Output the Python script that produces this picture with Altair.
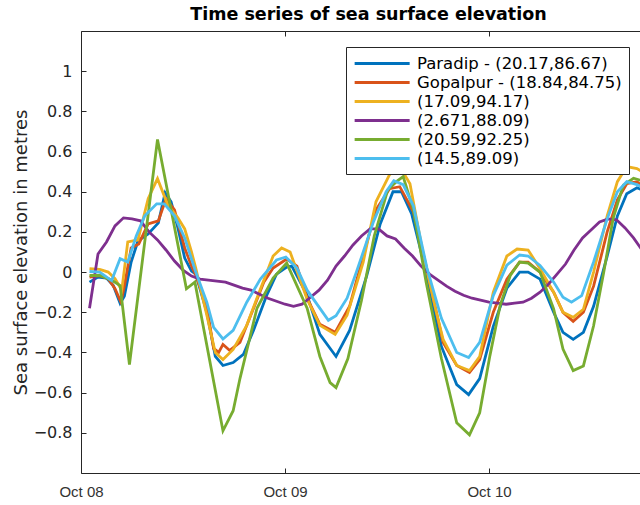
import altair as alt
import pandas as pd

SERIES = ["Paradip - (20.17,86.67)", "Gopalpur - (18.84,84.75)", "(17.09,94.17)",
          "(2.671,88.09)", "(20.59,92.25)", "(14.5,89.09)"]
COLORS = ["#0072BD", "#D95319", "#EDB120", "#7E2F8E", "#77AC30", "#4DBEEE"]

# hours after Oct 08 00:00, and sea surface elevation (m)
PARADIP_H = [1.0, 2.0, 3.0, 3.8, 4.6, 5.1, 5.9, 6.7, 7.9, 9.1, 9.9, 10.6, 11.4, 12.2, 13.0, 13.5, 14.8, 15.8,
             16.7, 17.9, 19.1, 20.3, 21.8, 23.0, 24.2, 24.8, 26.6, 28.1, 30.0, 31.6, 33.6, 35.2, 36.7, 37.7,
             38.9, 40.6, 42.4, 44.2, 45.6, 46.9, 48.5, 50.1, 51.6, 52.6, 54.0, 55.6, 56.7, 57.9, 59.1, 60.3,
             61.9, 63.1, 64.2, 65.4, 66.0]
PARADIP_V = [-0.05, -0.025, -0.03, -0.067, -0.155, -0.12, 0.05, 0.155, 0.19, 0.245, 0.395, 0.35, 0.22, 0.07,
             0.005, -0.01, -0.2, -0.42, -0.465, -0.45, -0.41, -0.29, -0.12, -0.01, 0.025, 0.03, -0.115, -0.31,
             -0.42, -0.29, -0.02, 0.24, 0.4, 0.4, 0.29, 0.0, -0.37, -0.56, -0.61, -0.53, -0.27, -0.08, 0.0, 0.0,
             -0.035, -0.2, -0.3, -0.335, -0.3, -0.17, 0.08, 0.28, 0.39, 0.42, 0.41]

GOPALPUR_H = [1.0, 2.2, 3.2, 4.0, 4.7, 5.1, 5.9, 6.8, 7.9, 9.1, 10.0, 11.0, 12.2, 13.0, 13.5, 14.8, 15.6, 16.2,
              16.7, 17.5, 18.7, 20.3, 21.5, 22.6, 24.2, 25.4, 26.6, 28.1, 29.9, 31.6, 33.2, 34.7, 36.3, 37.5,
              39.1, 40.6, 42.6, 44.2, 45.7, 46.9, 48.5, 50.1, 51.6, 52.6, 54.0, 55.6, 56.7, 57.9, 59.1, 60.3,
              61.9, 63.1, 64.2, 65.4, 66.0]
GOPALPUR_V = [-0.025, -0.017, -0.033, -0.083, -0.15, -0.07, 0.12, 0.14, 0.24, 0.255, 0.365, 0.31, 0.12, 0.03,
              -0.015, -0.17, -0.38, -0.4, -0.36, -0.39, -0.35, -0.18, -0.05, 0.02, 0.065, 0.03, -0.13, -0.26,
              -0.3, -0.17, 0.08, 0.31, 0.415, 0.425, 0.3, 0.03, -0.35, -0.465, -0.5, -0.435, -0.2, -0.035, 0.05,
              0.05, 0.0, -0.1, -0.2, -0.245, -0.2, -0.07, 0.2, 0.36, 0.44, 0.45, 0.43]

S3_H = [1.0, 2.2, 3.2, 4.0, 4.8, 5.5, 6.7, 7.9, 9.0, 10.2, 11.4, 12.2, 13.0, 13.5, 14.8, 15.8, 16.7, 17.9, 19.5,
        21.1, 22.6, 23.6, 24.6, 26.6, 28.1, 29.9, 31.3, 33.2, 34.7, 36.3, 37.5, 38.7, 40.2, 41.8, 42.6, 44.2,
        45.7, 46.9, 48.5, 50.1, 51.3, 52.6, 54.0, 55.6, 56.7, 57.9, 59.1, 60.3, 61.9, 63.1, 64.2, 65.4, 66.0]
S3_V = [0.017, 0.013, 0.0, -0.033, -0.09, 0.15, 0.16, 0.365, 0.465, 0.335, 0.27, 0.215, 0.1, 0.02, -0.215, -0.4,
        -0.435, -0.385, -0.265, -0.085, 0.08, 0.12, 0.1, -0.135, -0.265, -0.31, -0.215, 0.05, 0.35, 0.485, 0.525,
        0.44, 0.1, -0.2, -0.335, -0.465, -0.49, -0.42, -0.1, 0.08, 0.115, 0.11, 0.017, -0.1, -0.2, -0.225,
        -0.185, 0.0, 0.28, 0.45, 0.525, 0.515, 0.5]

S4_H = list(range(1, 67))
S4_V = [-0.18, 0.09, 0.15, 0.23, 0.27, 0.265, 0.255, 0.2, 0.16, 0.11, 0.055, 0.01, -0.02, -0.035, -0.04, -0.045,
        -0.05, -0.065, -0.08, -0.09, -0.11, -0.13, -0.145, -0.16, -0.17, -0.16, -0.125, -0.09, -0.04, 0.03,
        0.08, 0.135, 0.18, 0.215, 0.215, 0.18, 0.165, 0.12, 0.08, 0.03, -0.01, -0.04, -0.07, -0.095, -0.115,
        -0.13, -0.14, -0.15, -0.155, -0.16, -0.155, -0.15, -0.13, -0.1, -0.06, -0.01, 0.04, 0.11, 0.17, 0.21,
        0.25, 0.265, 0.26, 0.22, 0.17, 0.11]

S5_H = [1.0, 2.2, 3.6, 4.6, 5.7, 9.0, 12.4, 13.4, 16.7, 17.9, 18.7, 20.7, 22.6, 24.2, 26.6, 28.1, 29.3, 30.0,
        31.4, 33.0, 34.5, 36.1, 37.1, 37.9, 39.1, 40.6, 42.4, 44.2, 45.7, 46.9, 48.1, 49.3, 50.5, 51.6, 52.6,
        54.0, 55.6, 56.7, 57.9, 59.1, 60.3, 61.5, 62.6, 63.8, 65.0, 66.0]
S5_V = [-0.017, -0.017, -0.04, -0.067, -0.46, 0.66, -0.083, -0.05, -0.79, -0.69, -0.53, -0.18, -0.03, 0.045,
        -0.18, -0.42, -0.55, -0.575, -0.43, -0.14, 0.18, 0.41, 0.45, 0.475, 0.31, -0.05, -0.43, -0.75, -0.81,
        -0.7, -0.417, -0.167, -0.017, 0.05, 0.045, 0.0, -0.183, -0.383, -0.49, -0.467, -0.267, 0.0, 0.267,
        0.433, 0.467, 0.455]

S6_H = [1.0, 2.2, 3.6, 4.6, 5.5, 6.5, 7.5, 8.9, 9.8, 11.0, 12.2, 13.5, 14.8, 15.6, 16.7, 17.9, 19.5, 21.1, 23.0,
        24.1, 25.4, 26.6, 29.1, 30.0, 31.3, 32.4, 34.4, 35.9, 36.8, 37.9, 39.1, 40.7, 42.4, 44.2, 45.6, 46.9,
        48.5, 50.1, 51.6, 52.6, 54.0, 55.6, 56.7, 57.7, 58.9, 60.3, 61.9, 63.1, 64.2, 65.4, 66.0]
S6_V = [0.003, 0.0, -0.042, 0.067, 0.05, 0.18, 0.28, 0.34, 0.34, 0.28, 0.17, 0.0, -0.15, -0.275, -0.333, -0.29,
        -0.15, -0.035, 0.06, 0.075, 0.02, -0.09, -0.24, -0.217, -0.13, 0.0, 0.25, 0.4, 0.455, 0.435, 0.33, 0.02,
        -0.23, -0.4, -0.425, -0.35, -0.117, 0.035, 0.085, 0.08, 0.033, -0.05, -0.125, -0.15, -0.117, 0.05, 0.265,
        0.4, 0.45, 0.435, 0.425]

X_TICKS = [0, 24, 48]
X_LABELS = ["Oct 08", "Oct 09", "Oct 10"]
Y_TICKS = [-0.8, -0.6, -0.4, -0.2, 0, 0.2, 0.4, 0.6, 0.8, 1]
X_DOMAIN = [0, 65.76]
Y_DOMAIN = [-1, 1.2]

rows = []
for name, hs, vs in zip(SERIES, [PARADIP_H, GOPALPUR_H, S3_H, S4_H, S5_H, S6_H],
                        [PARADIP_V, GOPALPUR_V, S3_V, S4_V, S5_V, S6_V]):
    for h, v in zip(hs, vs):
        rows.append({"series": name, "hour": h, "value": v})
df = pd.DataFrame(rows)

label_expr = " : ".join(f"datum.value == {t} ? '{l}'" for t, l in zip(X_TICKS, X_LABELS)) + " : ''"

AX = "#262626"
xs = alt.Scale(domain=X_DOMAIN, nice=False, zero=False)
ys = alt.Scale(domain=Y_DOMAIN, nice=False, zero=False)

lines = alt.Chart(df).mark_line(strokeWidth=2.8, clip=True).encode(
    x=alt.X("hour:Q", scale=xs, axis=alt.Axis(
        orient="bottom", values=X_TICKS, labelExpr=label_expr, title=None, ticks=False,
        domain=True, domainColor=AX, domainWidth=1, labelFont="Liberation Sans", labelFontSize=15,
        labelColor="#333333", labelPadding=11, labelFlush=False, labelOverlap=False, grid=False)),
    y=alt.Y("value:Q", scale=ys, axis=alt.Axis(
        orient="left", values=Y_TICKS, format="~g", title="Sea surface elevation in metres",
        titleFont="DejaVu Sans", titleFontSize=18, titleFontWeight="normal", titleColor=AX,
        titlePadding=3, labelFont="DejaVu Sans", labelFontSize=16, labelColor=AX, labelPadding=9,
        ticks=False, domain=True, domainColor=AX, domainWidth=1, grid=False)),
    color=alt.Color("series:N", scale=alt.Scale(domain=SERIES, range=COLORS), legend=alt.Legend(
        title=None, orient="none", legendX=265, legendY=16, symbolType="M-1,0H6", symbolSize=247,
        symbolStrokeWidth=3, labelFont="DejaVu Sans", labelFontSize=16.5, labelColor="black",
        labelLimit=400, labelOffset=45, strokeColor=AX, fillColor="white", padding=7, rowPadding=1)),
)

ticks_bl = alt.Chart(df).mark_point(opacity=0, clip=True).encode(
    x=alt.X("hour:Q", scale=xs, axis=alt.Axis(
        orient="bottom", offset=-5, values=X_TICKS, labels=False, domain=False, ticks=True,
        tickSize=5, tickColor=AX, title=None, grid=False)),
    y=alt.Y("value:Q", scale=ys, axis=alt.Axis(
        orient="left", offset=-5, values=Y_TICKS, labels=False, domain=False, ticks=True,
        tickSize=5, tickColor=AX, title=None, grid=False)),
)

top_line = alt.Chart(df).mark_point(opacity=0, clip=True).encode(
    x=alt.X("hour:Q", scale=xs, axis=alt.Axis(
        orient="top", labels=False, ticks=False, domain=True, domainColor=AX, title=None, grid=False)),
    y=alt.Y("value:Q", scale=ys, axis=None),
)

top_ticks = alt.Chart(df).mark_point(opacity=0, clip=True).encode(
    x=alt.X("hour:Q", scale=xs, axis=alt.Axis(
        orient="top", offset=-5, values=X_TICKS, labels=False, domain=False, ticks=True,
        tickSize=5, tickColor=AX, title=None, grid=False)),
    y=alt.Y("value:Q", scale=ys, axis=None),
)

chart = alt.layer(lines, ticks_bl, top_line, top_ticks).resolve_axis(
    x="independent", y="independent"
).properties(
    width=559, height=442,
    autosize=alt.AutoSizeParams(type="none"),
    padding={"left": 81, "top": 31, "right": 0, "bottom": 32},
    title=alt.TitleParams("Time series of sea surface elevation", font="DejaVu Sans", fontSize=17.5,
                          fontWeight="bold", color="black", anchor="middle", frame="group",
                          baseline="alphabetic", offset=12, dx=8, dy=19),
).configure_view(stroke=None)

chart.save("out.html", embed_options={"renderer": "svg", "actions": False})
